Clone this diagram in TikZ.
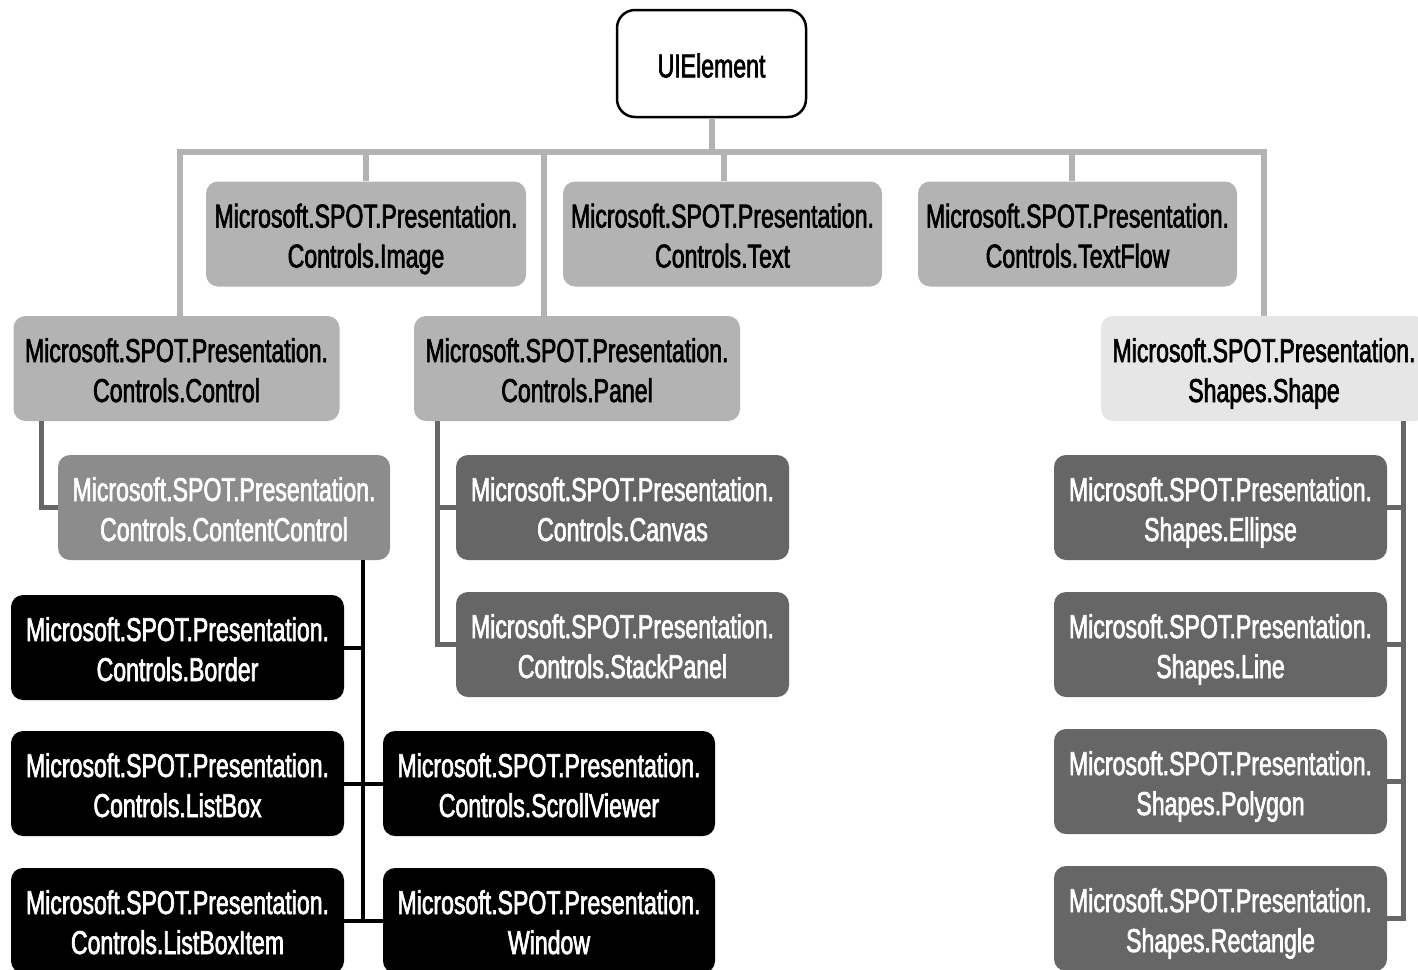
\documentclass[tikz,border=0pt]{standalone}
\usepackage{fontspec}
\setmainfont{Liberation Sans}[FakeStretch=0.70,FakeBold=2]
\definecolor{lg}{HTML}{B3B3B3}
\definecolor{vlg}{HTML}{E6E6E6}
\definecolor{mg}{HTML}{8C8C8C}
\definecolor{dg}{HTML}{666666}
\newcommand{\topstrut}{\rule{0pt}{37pt}}
\newcommand{\botstrut}{\rule[-10pt]{0pt}{10pt}}
\tikzset{
  box/.style={rounded corners=12pt, minimum height=105pt, align=center, inner sep=0pt,
    font=\fontsize{33}{40}\selectfont},
  lbox/.style={box, fill=lg, text=black, minimum width=326pt},
  dbox/.style={box, fill=dg, text=white, minimum width=333pt},
  kbox/.style={box, fill=black, text=white, minimum width=333pt},
  gbus/.style={draw=lg, line width=6pt},
  dline/.style={draw=dg, line width=5pt},
  kline/.style={draw=black, line width=4pt},
}
\begin{document}
\begin{tikzpicture}[x=1pt,y=-1pt]
\useasboundingbox (0,0) rectangle (1418,969);
\clip (0,0) rectangle (1418,969);
\fill[white] (0,0) rectangle (1418,969);

% nodes
\node[box, draw=black, line width=2.5pt, fill=white, rounded corners=18pt, minimum width=189pt, minimum height=107pt] (ui) at (711.5,63.5) {\rule{0pt}{28pt}UIElement};

\node[lbox, minimum width=320pt] (img) at (366,234) {\topstrut Microsoft.SPOT.Presentation.\\Controls.Image\botstrut};
\node[lbox, minimum width=319pt] (txt) at (722.5,234) {\topstrut Microsoft.SPOT.Presentation.\\Controls.Text\botstrut};
\node[lbox, minimum width=319pt] (tflow) at (1077.5,234) {\topstrut Microsoft.SPOT.Presentation.\\Controls.TextFlow\botstrut};

\node[lbox] (ctrl) at (176.5,368.5) {\topstrut Microsoft.SPOT.Presentation.\\Controls.Control\botstrut};
\node[lbox] (panel) at (577,368.5) {\topstrut Microsoft.SPOT.Presentation.\\Controls.Panel\botstrut};
\node[lbox, fill=vlg] (shape) at (1264,368.5) {\topstrut Microsoft.SPOT.Presentation.\\Shapes.Shape\botstrut};

\node[dbox, fill=mg, minimum width=332pt] (cc) at (224,507.5) {\topstrut Microsoft.SPOT.Presentation.\\Controls.ContentControl\botstrut};
\node[dbox] (canvas) at (622.5,507.5) {\topstrut Microsoft.SPOT.Presentation.\\Controls.Canvas\botstrut};
\node[dbox] (stack) at (622.5,644.5) {\topstrut Microsoft.SPOT.Presentation.\\Controls.StackPanel\botstrut};

\node[kbox] (border) at (177.5,647.5) {\topstrut Microsoft.SPOT.Presentation.\\Controls.Border\botstrut};
\node[kbox] (listbox) at (177.5,783.5) {\topstrut Microsoft.SPOT.Presentation.\\Controls.ListBox\botstrut};
\node[kbox] (lbi) at (177.5,920.5) {\topstrut Microsoft.SPOT.Presentation.\\Controls.ListBoxItem\botstrut};
\node[kbox, minimum width=332pt] (scroll) at (549,783.5) {\topstrut Microsoft.SPOT.Presentation.\\Controls.ScrollViewer\botstrut};
\node[kbox, minimum width=332pt] (win) at (549,920.5) {\topstrut Microsoft.SPOT.Presentation.\\Window\botstrut};

\node[dbox] (ell) at (1220.5,507.5) {\topstrut Microsoft.SPOT.Presentation.\\Shapes.Ellipse\botstrut};
\node[dbox] (line) at (1220.5,644.5) {\topstrut Microsoft.SPOT.Presentation.\\Shapes.Line\botstrut};
\node[dbox] (poly) at (1220.5,781.5) {\topstrut Microsoft.SPOT.Presentation.\\Shapes.Polygon\botstrut};
\node[dbox] (rect) at (1220.5,918.5) {\topstrut Microsoft.SPOT.Presentation.\\Shapes.Rectangle\botstrut};

% top bus
\coordinate (bus) at (713,152);
\draw[gbus] (ui.south) -- (ui.south |- bus);
\draw[gbus] ([xshift=3.5pt]ctrl.north) -- ([xshift=3.5pt]ctrl.north |- bus) -- (shape.north |- bus) -- (shape.north);
\draw[gbus] (img.north) -- (img.north |- bus);
\draw[gbus] ([xshift=-33pt]panel.north) -- ([xshift=-33pt]panel.north |- bus);
\draw[gbus] ([xshift=1.5pt]txt.north) -- ([xshift=1.5pt]txt.north |- bus);
\draw[gbus] ([xshift=-5.5pt]tflow.north) -- ([xshift=-5.5pt]tflow.north |- bus);

% Control -> ContentControl
\draw[dline] ([xshift=28pt]ctrl.south west) |- (cc.west);

% Panel -> Canvas, StackPanel
\coordinate (pb) at ([xshift=24pt]panel.south west);
\draw[dline] (pb) |- (stack.west);
\draw[dline] (pb |- canvas.west) -- (canvas.west);

% ContentControl -> children
\coordinate (cb) at ([xshift=-27pt]cc.south east);
\draw[kline] (cb) |- (lbi.east);
\draw[kline] (cb |- border.east) -- (border.east);
\draw[kline] (listbox.east) -- (scroll.west);
\draw[kline] (cb |- win.west) -- (win.west);

% Shape -> children
\coordinate (sb) at ([xshift=-24pt]shape.south east);
\draw[dline] (sb) |- (rect.east);
\draw[dline] (sb |- ell.east) -- (ell.east);
\draw[dline] (sb |- line.east) -- (line.east);
\draw[dline] (sb |- poly.east) -- (poly.east);
\end{tikzpicture}
\end{document}
